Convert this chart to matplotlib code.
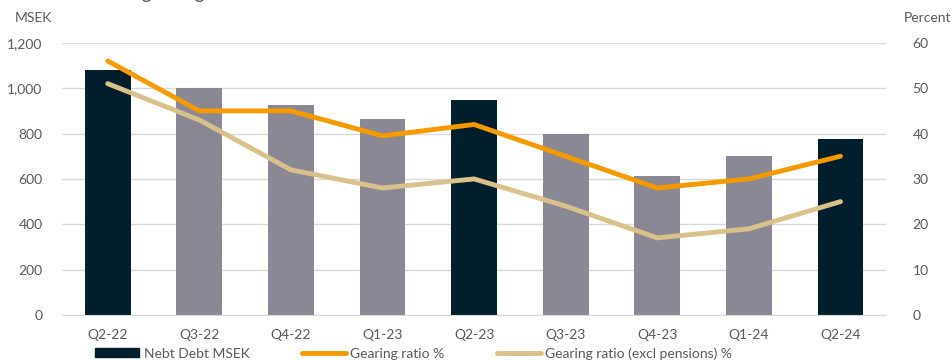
import numpy as np
import matplotlib.pyplot as plt
from matplotlib.patches import Patch
from matplotlib.lines import Line2D

plt.rcParams['font.family'] = ['Lato', 'DejaVu Sans']

quarters = ["Q2-22", "Q3-22", "Q4-22", "Q1-23", "Q2-23", "Q3-23", "Q4-23", "Q1-24", "Q2-24"]
net_debt = [1080, 1000, 925, 865, 950, 800, 615, 700, 775]
gearing = [56, 45, 45, 39.5, 42, 35, 28, 30, 35]
gearing_excl = [51, 43, 32, 28, 30, 24, 17, 19, 25]

dark = "#001e2b"
grey = "#8a8895"
orange = "#f59a00"
tan = "#d9c18c"
txt = "#595959"

bar_colors = [dark if q.startswith("Q2") else grey for q in quarters]

fig = plt.figure(figsize=(9.53, 3.6), dpi=100)
ax = fig.add_axes([0.065, 0.125, 0.865, 0.756])
x = np.arange(len(quarters))

ax.bar(x, net_debt, width=0.5, color=bar_colors, zorder=2)
ax.set_ylim(0, 1200)
ax.set_yticks(np.arange(0, 1201, 200))
ax.set_yticklabels([f"{v:,}" for v in range(0, 1201, 200)])
ax.set_xlim(-0.5, 8.5)
ax.set_xticks(x)
ax.set_xticklabels(quarters)
ax.grid(axis="y", color="#d9d9d9", lw=1, zorder=0)
for s in ["top", "left", "right"]:
    ax.spines[s].set_visible(False)
ax.spines["bottom"].set_color("#d9d9d9")
ax.tick_params(axis="both", length=0, colors=txt, labelsize=10)
ax.tick_params(axis="y", pad=14)
ax.tick_params(axis="x", pad=10)

ax2 = ax.twinx()
ax2.plot(x, gearing, color=orange, lw=3.5, solid_capstyle="round", zorder=3)
ax2.plot(x, gearing_excl, color=tan, lw=3.5, solid_capstyle="round", zorder=3)
ax2.set_ylim(0, 60)
ax2.set_yticks(np.arange(0, 61, 10))
for s in ax2.spines.values():
    s.set_visible(False)
ax2.tick_params(axis="y", length=0, colors=txt, labelsize=10, pad=19)

fig.text(0.016, 0.95, "MSEK", color=txt, fontsize=10, va="center")
fig.text(0.948, 0.95, "Percent", color=txt, fontsize=10, va="center")
# title sits mostly above the top edge, only the descenders show
fig.text(0.215, 1.004, "Net debt and gearing", color=txt, fontsize=14,
         ha="right", va="baseline")

handles = [
    Patch(facecolor=dark, edgecolor=dark),
    Line2D([0], [0], color=orange, lw=3.5, solid_capstyle="round"),
    Line2D([0], [0], color=tan, lw=3.5, solid_capstyle="round"),
]
labels = ["Nebt Debt MSEK", "Gearing ratio %", "Gearing ratio (excl pensions) %"]
fig.legend(handles, labels, loc="center", bbox_to_anchor=(0.434, 0.018), ncol=3,
           frameon=False, fontsize=10, labelcolor=txt, handlelength=3.2,
           handleheight=0.6, handletextpad=0.3, columnspacing=3.75)

fig.savefig("out.png", dpi=100)
